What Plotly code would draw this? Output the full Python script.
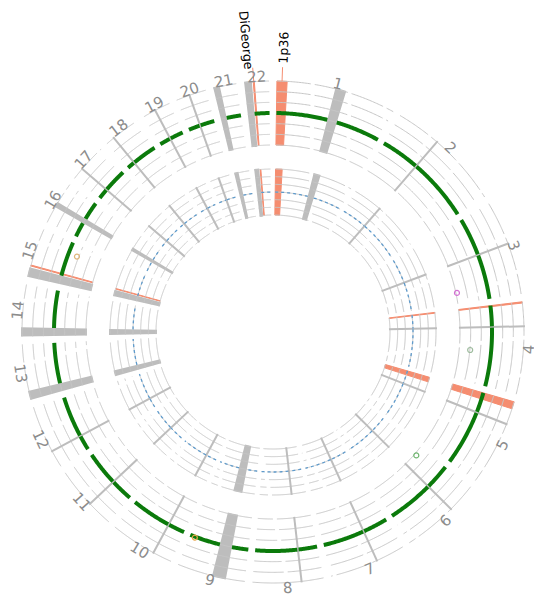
import numpy as np
import plotly.graph_objects as go

# ---------------- data ----------------
chroms = [str(i) for i in range(1, 23)]
chrom_len = [249.25, 243.20, 198.02, 191.15, 180.92, 171.12, 159.14, 146.36, 141.21, 135.53, 135.01,
             133.85, 115.17, 107.35, 102.53, 90.35, 81.20, 78.08, 59.13, 63.03, 48.13, 51.30]
# centromere positions drawn as thin grey radial lines (Mb)
cen_chr = ['2', '3', '4', '5', '6', '7', '8', '10', '11', '12', '17', '18', '19', '20']
cen_pos = [93.3, 91.0, 50.4, 48.4, 61.0, 59.9, 45.6, 40.2, 53.7, 35.8, 25.0, 18.5, 26.5, 28.1]
# grey blocks (heterochromatin / acrocentric short arms, no data)
gray_chr = ['1', '9', '13', '14', '15', '16', '21', '22']
gray_start = [121.0, 39.0, 0.0, 0.0, 0.0, 35.0, 0.0, 0.0]
gray_end = [144.0, 68.0, 19.0, 19.0, 20.0, 47.0, 14.0, 16.0]
# highlighted regions
hl_chr = ['1', '4', '5', '15', '22']
hl_start = [0.0, 0.0, 0.0, 23.0, 18.8]
hl_end = [21.0, 2.5, 15.0, 25.0, 21.0]
# named regions
name_text = ['1p36', 'DiGeorge']
name_chr = ['1', '22']
name_pos = [10.5, 19.9]
# outer-track level per chromosome (green) and inner-track level (blue)
green_level = [0.0] * 22
blue_level = [0.0] * 22
# outlier points on outer track
pt_chr = ['3', '4', '6', '9', '15']
pt_pos = [168.5, 109.0, 24.0, 129.0, 75.0]
pt_val = [-2.9, -1.97, -2.8, 0.09, -0.84]
pt_color = ['#d36fd3', '#9dbb9d', '#6fb56f', '#e8a54a', '#e0b47a']

# ---------------- geometry ----------------
W, H = 534, 591          # figure size (page body has an 8px margin)
CX, CY = 265, 324        # circle centre in figure pixels (from top-left)
RMAX = 265

GAP = 1.8
total = sum(chrom_len)
scale = (360 - GAP * len(chroms)) / total
cum = np.concatenate([[0.0], np.cumsum(chrom_len)[:-1]])
chr_start = GAP / 2 + np.arange(len(chroms)) * GAP + scale * cum
idx = {c: i for i, c in enumerate(chroms)}


def ang(c, mb):
    return chr_start[idx[c]] + scale * mb


TRACKS = {'outer': (187.0, 251.0), 'inner': (117.0, 163.0)}
VMIN, VMAX = -3.0, 3.0
grid_vals = [-3, -2, -1, 0, 1, 2, 3]


def rad(track, v):
    r0, r1 = TRACKS[track]
    return r0 + (v - VMIN) / (VMAX - VMIN) * (r1 - r0)


def covered(c):
    segs = [(0.0, chrom_len[idx[c]])]
    cuts = [(s, e) for cc, s, e in zip(gray_chr, gray_start, gray_end) if cc == c]
    cuts += [(p - 1.5, p + 1.5) for cc, p in zip(cen_chr, cen_pos) if cc == c]
    for cs, ce in cuts:
        new = []
        for s, e in segs:
            if ce <= s or cs >= e:
                new.append((s, e))
            else:
                if cs > s:
                    new.append((s, cs))
                if ce < e:
                    new.append((ce, e))
        segs = new
    return segs


fig = go.Figure()

# highlighted regions (under the grid)
th, w, base, rr = [], [], [], []
for c, s, e in zip(hl_chr, hl_start, hl_end):
    for tr in TRACKS.values():
        th.append(ang(c, (s + e) / 2))
        w.append(scale * (e - s))
        base.append(tr[0])
        rr.append(tr[1] - tr[0])
fig.add_trace(go.Barpolar(theta=th, width=w, base=base, r=rr,
                          marker=dict(color='#f58d70', line=dict(color='#f58d70', width=1)),
                          hoverinfo='skip', showlegend=False))

# grid arcs (one dashed arc per chromosome and level)
for tname in TRACKS:
    for v in grid_vals:
        for i, c in enumerate(chroms):
            t = np.linspace(chr_start[i], chr_start[i] + scale * chrom_len[i], 80)
            fig.add_trace(go.Scatterpolar(theta=t, r=[rad(tname, v)] * len(t), mode='lines',
                                          line=dict(color='#c6c6c6', width=1, dash='34px,4px'),
                                          hoverinfo='skip', showlegend=False))

# grey blocks
th, w, base, rr = [], [], [], []
for c, s, e in zip(gray_chr, gray_start, gray_end):
    for tr in TRACKS.values():
        th.append(ang(c, (s + e) / 2))
        w.append(scale * (e - s))
        base.append(tr[0] - 1)
        rr.append(tr[1] - tr[0] + 2)
fig.add_trace(go.Barpolar(theta=th, width=w, base=base, r=rr,
                          marker=dict(color='#bdbdbd', line=dict(width=0)),
                          hoverinfo='skip', showlegend=False))

# centromere lines
ct, cr = [], []
for c, p in zip(cen_chr, cen_pos):
    for tr in TRACKS.values():
        ct += [ang(c, p), ang(c, p), None]
        cr += [tr[0] - 1, tr[1] + 1, None]
fig.add_trace(go.Scatterpolar(theta=ct, r=cr, mode='lines',
                              line=dict(color='#bdbdbd', width=2),
                              hoverinfo='skip', showlegend=False))

# leader lines for named regions
lt, lr = [], []
for c, p in zip(name_chr, name_pos):
    lt += [ang(c, p), ang(c, p), None]
    lr += [TRACKS['outer'][1], 270, None]
fig.add_trace(go.Scatterpolar(theta=lt, r=lr, mode='lines',
                              line=dict(color='#f58d70', width=1),
                              hoverinfo='skip', showlegend=False))

# inner track (blue)
bt, br = [], []
for i, c in enumerate(chroms):
    for s, e in covered(c):
        t = np.linspace(ang(c, s), ang(c, e), 40)
        bt += list(t) + [None]
        br += [rad('inner', blue_level[i])] * len(t) + [None]
fig.add_trace(go.Scatterpolar(theta=bt, r=br, mode='lines',
                              line=dict(color='#5f9bcc', width=1.3, dash='dot'),
                              hoverinfo='skip', showlegend=False))

# outer track (green)
gt2, gr2 = [], []
for i, c in enumerate(chroms):
    for s, e in covered(c):
        t = np.linspace(ang(c, s), ang(c, e), 40)
        gt2 += list(t) + [None]
        gr2 += [rad('outer', green_level[i])] * len(t) + [None]
fig.add_trace(go.Scatterpolar(theta=gt2, r=gr2, mode='lines',
                              line=dict(color='#0b7a0b', width=4),
                              hoverinfo='skip', showlegend=False))

# outlier points
fig.add_trace(go.Scatterpolar(theta=[ang(c, p) for c, p in zip(pt_chr, pt_pos)],
                              r=[rad('outer', v) for v in pt_val], mode='markers',
                              marker=dict(symbol='circle-open', size=5, color=pt_color,
                                          line=dict(width=1.2)),
                              hoverinfo='skip', showlegend=False))

# dummy cartesian trace (1 unit = 1 px, origin at circle centre) for labels
fig.add_trace(go.Scatter(x=[None], y=[None], showlegend=False, hoverinfo='skip'))

annots = []


def norm_rot(a):
    a = a % 360
    if 90 < a < 270:
        a -= 180
    elif a >= 270:
        a -= 360
    return a


for i, c in enumerate(chroms):
    a = chr_start[i] + scale * chrom_len[i] / 2
    r = 256
    annots.append(dict(x=r * np.sin(np.radians(a)), y=r * np.cos(np.radians(a)), xref='x', yref='y',
                       text=c, showarrow=False, textangle=norm_rot(a),
                       font=dict(family='DejaVu Sans', size=15, color='#8c8c8c')))

name_r = [285, 293]
name_off = [0.0, -0.8]
for txt, c, p, r, off in zip(name_text, name_chr, name_pos, name_r, name_off):
    a = ang(c, p) + off
    rot = norm_rot(a - 90)
    annots.append(dict(x=r * np.sin(np.radians(a)), y=r * np.cos(np.radians(a)), xref='x', yref='y',
                       text=txt, showarrow=False, textangle=rot,
                       font=dict(family='DejaVu Sans', size=12.5, color='black')))

dom_x = [(CX - RMAX) / W, (CX + RMAX) / W]
dom_y = [(H - CY - RMAX) / H, (H - CY + RMAX) / H]
fig.update_layout(
    width=W, height=H, margin=dict(l=0, r=0, t=0, b=0),
    paper_bgcolor='white', plot_bgcolor='rgba(0,0,0,0)', showlegend=False,
    polar=dict(domain=dict(x=dom_x, y=dom_y), bgcolor='rgba(0,0,0,0)', barmode='overlay',
               radialaxis=dict(range=[0, RMAX], visible=False),
               angularaxis=dict(direction='clockwise', rotation=90, visible=False)),
    xaxis=dict(domain=[0, 1], range=[-CX, W - CX], visible=False, fixedrange=True),
    yaxis=dict(domain=[0, 1], range=[-(H - CY), CY], visible=False, fixedrange=True),
    annotations=annots,
)

fig.write_html('out.html')
